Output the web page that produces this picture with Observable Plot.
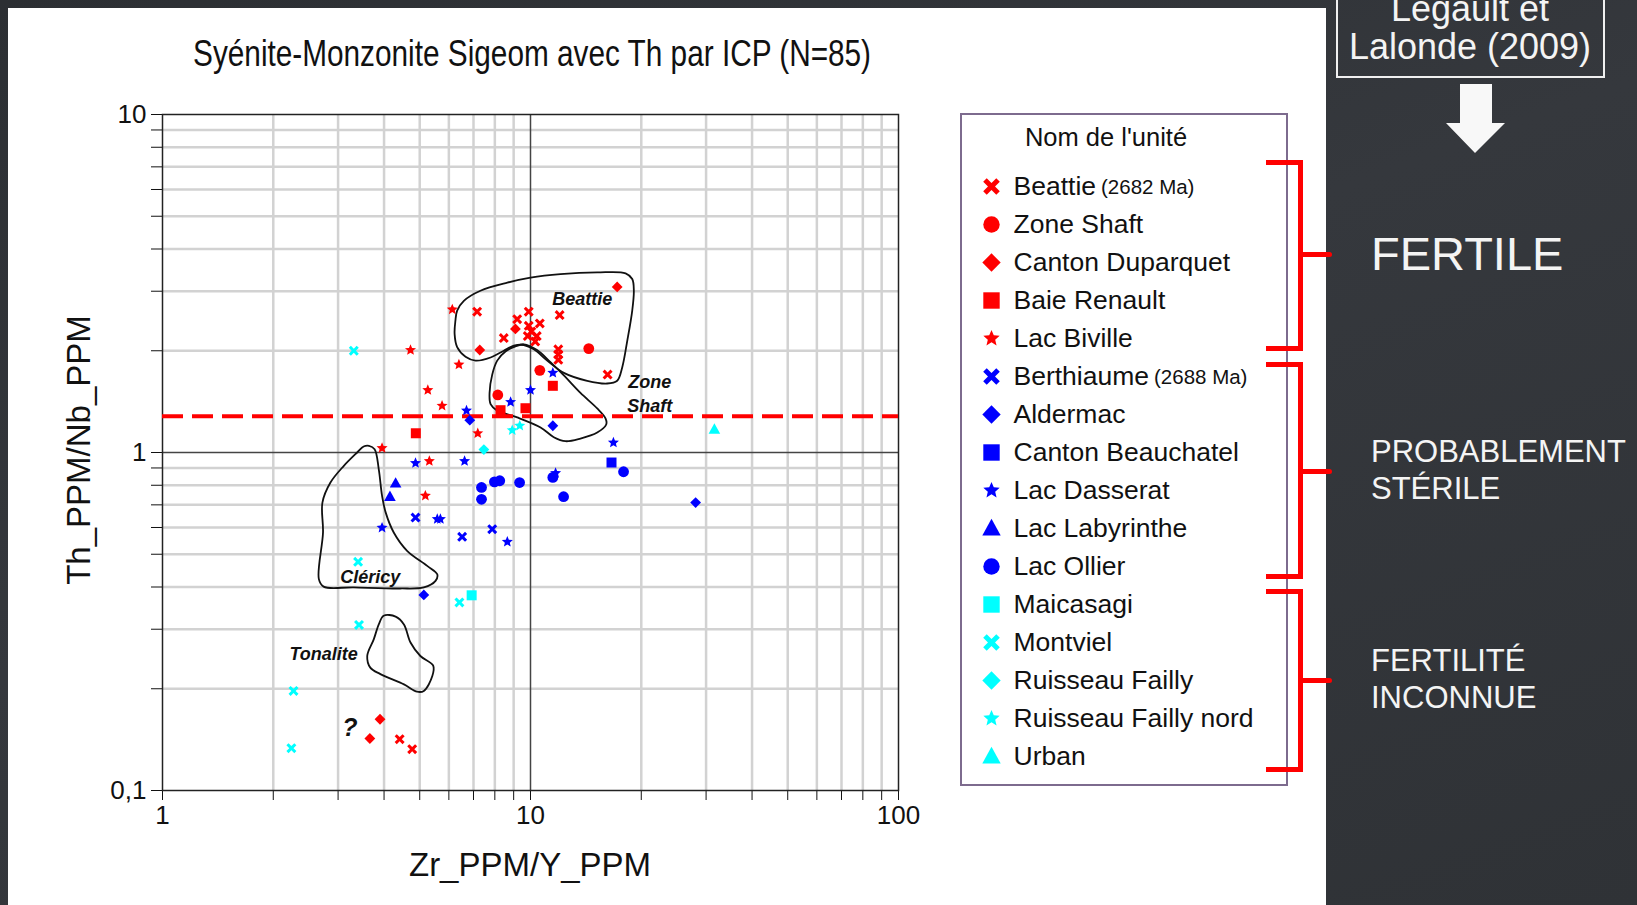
<!DOCTYPE html>
<html><head><meta charset="utf-8">
<script src="https://cdn.jsdelivr.net/npm/d3@7"></script>
<script src="https://cdn.jsdelivr.net/npm/@observablehq/plot@0.6"></script>
<style>
html,body{margin:0;padding:0;width:1637px;height:905px;overflow:hidden;}
body{position:relative;background:linear-gradient(160deg,#2c2f33 0%,#35383d 45%,#2f3236 100%);font-family:"Liberation Sans",Arial,sans-serif;}
#panel{position:absolute;left:8px;top:8px;width:1318px;height:897px;background:#fff;}
.abs{position:absolute;white-space:nowrap;}
#title{left:122px;width:800px;top:36px;text-align:center;font-size:36px;line-height:36px;color:#111;}
#title span{display:inline-block;transform-origin:50% 50%;}
#ylab{left:78px;top:450px;font-size:33px;line-height:33px;color:#111;transform:translate(-50%,-50%) rotate(-90deg);}
#xlab{left:530px;top:864px;font-size:33px;line-height:33px;color:#111;transform:translate(-50%,-50%);}
#chart{position:absolute;left:0;top:0;}
#legbox{position:absolute;left:960px;top:113px;width:328px;height:673px;box-sizing:border-box;border:2px solid #7d6b8e;}
#legtitle{left:1106px;top:124px;font-size:25.5px;line-height:26px;color:#111;transform:translateX(-50%);}
#legend{position:absolute;left:960px;top:113px;}
.br{position:absolute;box-sizing:border-box;border:5px solid #ff0000;border-left:none;}
.tick{position:absolute;height:5px;background:#ff0000;border-radius:0 3px 3px 0;}
.w{color:#f4f4f4;}
#legault{position:absolute;left:1336px;top:-2px;width:269px;height:80px;box-sizing:border-box;border:2px solid #f0f0f0;}
</style></head><body>
<div id="panel"></div>
<div id="title" class="abs"><span>Syénite-Monzonite Sigeom avec Th par ICP (N=85)</span></div>
<div id="chart"></div>
<div id="ylab" class="abs">Th_PPM/Nb_PPM</div>
<div id="xlab" class="abs">Zr_PPM/Y_PPM</div>
<div id="legbox"></div>
<div id="legtitle" class="abs">Nom de l'unité</div>
<div id="legend"></div>
<div class="br" style="left:1266px;top:160px;width:37px;height:191px;"></div>
<div class="tick" style="left:1300px;top:252px;width:32px;"></div>
<div class="br" style="left:1266px;top:362px;width:37px;height:217px;"></div>
<div class="tick" style="left:1300px;top:469px;width:32px;"></div>
<div class="br" style="left:1266px;top:589px;width:37px;height:183px;"></div>
<div class="tick" style="left:1300px;top:678px;width:32px;"></div>
<div id="legault"></div>
<div class="abs w" style="left:1470px;top:-10px;transform:translateX(-50%);font-size:36px;line-height:38px;text-align:center;">Legault et<br>Lalonde (2009)</div>
<svg class="abs" style="left:0;top:0;" width="1637" height="200"><polygon points="1460,84 1492,84 1492,123 1505,123 1475,153 1446,123 1460,123" fill="#f8f8f8"/></svg>
<div class="abs w" style="left:1371px;top:230px;font-size:47px;line-height:48px;">FERTILE</div>
<div class="abs w" style="left:1371px;top:433px;font-size:31px;line-height:37px;">PROBABLEMENT<br>STÉRILE</div>
<div class="abs w" style="left:1371px;top:642px;font-size:31px;line-height:37px;">FERTILITÉ<br>INCONNUE</div>
<script>
// ---------------- data ----------------
const units = ["Beattie","Zone Shaft","Canton Duparquet","Baie Renault","Lac Biville","Berthiaume","Aldermac","Canton Beauchatel","Lac Dasserat","Lac Labyrinthe","Lac Ollier","Maicasagi","Montviel","Ruisseau Failly","Ruisseau Failly nord","Urban"];
const unitSuffix = ["(2682 Ma)","","","","","(2688 Ma)","","","","","","","","","",""];
const unitColors = ["#ff0000","#ff0000","#ff0000","#ff0000","#ff0000","#0000ff","#0000ff","#0000ff","#0000ff","#0000ff","#0000ff","#00ffff","#00ffff","#00ffff","#00ffff","#00ffff"];
const unitShapes = ["x","circle","diamond","square","star","x","diamond","square","star","triangle","circle","square","x","diamond","star","triangle"];

// [Zr/Y, Th/Nb]
const beattie = [[7.16,2.61],[9.89,2.61],[12.0,2.55],[9.20,2.48],[10.6,2.41],[9.89,2.37],[10.05,2.28],[8.46,2.18],[9.83,2.21],[10.4,2.21],[10.3,2.13],[11.9,2.02],[11.9,1.95],[11.9,1.88],[16.2,1.70],[4.41,0.1418],[4.77,0.1325]];
const zoneShaft = [[14.4,2.03],[10.6,1.75],[8.15,1.48]];
const cantonDuparquet = [[17.2,3.09],[9.10,2.32],[7.28,2.01],[3.90,0.1625],[3.66,0.1425]];
const baieRenault = [[11.5,1.575],[8.29,1.334],[9.69,1.352],[4.88,1.14]];
const lacBiville = [[6.13,2.65],[4.72,2.01],[6.39,1.82],[5.26,1.53],[5.75,1.375],[7.19,1.14],[3.95,1.03],[5.31,0.943],[5.18,0.745]];
const berthiaume = [[4.87,0.642],[6.52,0.563],[7.87,0.593]];
const aldermac = [[6.84,1.246],[11.5,1.20],[28.1,0.711],[5.13,0.379]];
const cantonBeauchatel = [[16.6,0.934]];
const lacDasserat = [[11.5,1.72],[10.0,1.53],[8.83,1.41],[6.70,1.33],[16.8,1.07],[4.87,0.930],[6.62,0.943],[11.7,0.869],[3.95,0.599],[5.58,0.635],[5.69,0.635],[8.65,0.544]];
const lacLabyrinthe = [[4.30,0.811],[4.15,0.740]];
const lacOllier = [[7.36,0.788],[7.36,0.727],[7.98,0.819],[8.25,0.825],[9.34,0.815],[11.5,0.844],[12.3,0.740],[17.9,0.877]];
const maicasagi = [[6.92,0.378]];
const montviel = [[3.31,2.0],[3.40,0.475],[6.41,0.360],[3.42,0.309],[2.27,0.197],[2.24,0.1334]];
const ruisseauFailly = [[7.47,1.02]];
const ruisseauFaillyNord = [[8.92,1.164],[9.35,1.20]];
const urban = [[31.6,1.17]];
const series = [beattie,zoneShaft,cantonDuparquet,baieRenault,lacBiville,berthiaume,aldermac,cantonBeauchatel,lacDasserat,lacLabyrinthe,lacOllier,maicasagi,montviel,ruisseauFailly,ruisseauFaillyNord,urban];

// field outlines
const beattieZone = [[6.25,2.45],[6.32,2.63],[6.59,2.81],[7.31,3.01],[8.65,3.18],[10.0,3.29],[12.06,3.37],[15.18,3.41],[18.13,3.39],[18.9,3.26],[19.09,3.01],[18.9,2.63],[18.32,2.14],[17.75,1.785],[17.2,1.63],[16.16,1.60],[14.26,1.63],[12.32,1.72],[11.1,1.87],[10.21,2.02],[9.59,2.08],[9.01,2.07],[8.46,2.0],[7.79,1.91],[7.09,1.87],[6.66,1.92],[6.32,2.05],[6.22,2.24]];
const zoneShaftZone = [[9.59,2.09],[10.42,2.01],[11.33,1.85],[12.32,1.69],[13.67,1.50],[15.18,1.35],[16.0,1.26],[16.06,1.21],[15.18,1.146],[13.67,1.10],[12.45,1.08],[11.57,1.11],[10.65,1.186],[9.20,1.27],[8.12,1.33],[7.79,1.39],[7.74,1.50],[7.87,1.70],[8.12,1.87],[8.55,1.99],[9.10,2.06]];
const clericyZone = [[3.64,1.047],[3.77,1.023],[3.87,0.892],[3.95,0.745],[4.04,0.665],[4.25,0.580],[4.62,0.512],[5.24,0.462],[5.58,0.436],[5.52,0.417],[5.13,0.399],[4.43,0.396],[3.31,0.399],[2.74,0.401],[2.66,0.422],[2.73,0.580],[2.72,0.711],[2.86,0.815],[3.11,0.913],[3.38,1.0],[3.52,1.042]];
const tonaliteZone = [[3.99,0.329],[4.30,0.327],[4.53,0.310],[4.72,0.274],[5.02,0.250],[5.44,0.234],[5.41,0.218],[5.13,0.197],[4.92,0.196],[4.53,0.206],[3.91,0.221],[3.67,0.231],[3.60,0.250],[3.75,0.280],[3.87,0.310]];
const zoneLabels = ["Beattie","Zone","Shaft","Cléricy","Tonalite"];
const zoneLabelX = [13.82,21.1,21.1,3.67,2.74];
const zoneLabelY = [2.84,1.61,1.375,0.427,0.253];
const unknownLabel = ["?"];
const unknownX = [3.23];
const unknownY = [0.1526];
const threshold = [1.28];

const xTicks = [1,2,3,4,5,6,7,8,9,10,20,30,40,50,60,70,80,90,100];
const yTicks = [0.1,0.2,0.3,0.4,0.5,0.6,0.7,0.8,0.9,1,2,3,4,5,6,7,8,9,10];
const xTickLabels = {"1":"1","10":"10","100":"100"};
const yTickLabels = {"0.1":"0,1","1":"1","10":"10"};
const xGrid = [2,3,4,5,6,7,8,9,20,30,40,50,60,70,80,90];
const yGrid = [0.2,0.3,0.4,0.5,0.6,0.7,0.8,0.9,2,3,4,5,6,7,8,9];
const xMajor = [10];
const yMajor = [1];

// ---------------- symbols ----------------
function poly(ctx, pts){ctx.moveTo(pts[0][0],pts[0][1]);for(let i=1;i<pts.length;i++)ctx.lineTo(pts[i][0],pts[i][1]);ctx.closePath();}
const symX = {draw(ctx,size){const R=Math.sqrt(size/Math.PI),t=R*0.3,L=Math.SQRT2*R-t,c=Math.SQRT1_2;
  poly(ctx,[[-L,-t],[-t,-t],[-t,-L],[t,-L],[t,-t],[L,-t],[L,t],[t,t],[t,L],[-t,L],[-t,t],[-L,t]].map(([x,y])=>[(x-y)*c,(x+y)*c]));}};
const symSquare = {draw(ctx,size){const R=Math.sqrt(size/Math.PI);poly(ctx,[[-R,-R],[R,-R],[R,R],[-R,R]]);}};
const symDiamond = {draw(ctx,size){const R=Math.sqrt(size/Math.PI);poly(ctx,[[0,-R],[R,0],[0,R],[-R,0]]);}};
const symTriangle = {draw(ctx,size){const R=Math.sqrt(size/Math.PI);poly(ctx,[[0,-1.05*R],[R,0.75*R],[-R,0.75*R]]);}};
const symStar = {draw(ctx,size){const R=Math.sqrt(size/Math.PI),ri=R*0.45,pts=[];for(let k=0;k<10;k++){const a=-Math.PI/2+k*Math.PI/5,rr=k%2?ri:R;pts.push([rr*Math.cos(a),rr*Math.sin(a)]);}poly(ctx,pts);}};
const shapeDefs = {
  x:{symbol:symX,r:5.0,lr:8.3},
  circle:{symbol:"circle",r:5.4,lr:8.2},
  diamond:{symbol:symDiamond,r:5.4,lr:9.2},
  square:{symbol:symSquare,r:5.0,lr:8.2},
  star:{symbol:symStar,r:5.8,lr:8.6},
  triangle:{symbol:symTriangle,r:5.8,lr:9.2}
};

// ---------------- main chart ----------------
const fam = '"Liberation Sans", Arial, sans-serif';
const pointMarks = series.map((s,i)=>{const sd=shapeDefs[unitShapes[i]];
  return Plot.dot(s,{x:d=>d[0],y:d=>d[1],symbol:sd.symbol,r:sd.r,fill:unitColors[i]});});
const zoneMarks = [beattieZone,zoneShaftZone,clericyZone,tonaliteZone].map(z=>
  Plot.line(z,{x:d=>d[0],y:d=>d[1],curve:"catmull-rom-closed",stroke:"#111",strokeWidth:1.8}));

const chart = Plot.plot({
  width:1000,height:905,
  marginLeft:162,marginRight:102,marginTop:114,marginBottom:115,
  style:{fontFamily:fam,fontSize:"26px",color:"#111",background:"transparent",overflow:"visible"},
  x:{type:"log",domain:[1,100],ticks:xTicks,tickFormat:d=>xTickLabels[String(d)]??"",tickSize:10,tickPadding:5,label:null},
  y:{type:"log",domain:[0.1,10],ticks:yTicks,tickFormat:d=>yTickLabels[String(d)]??"",tickSize:11,tickPadding:5,label:null},
  marks:[
    Plot.ruleX(xGrid,{stroke:"#d2d2d2",strokeWidth:2.5}),
    Plot.ruleY(yGrid,{stroke:"#d2d2d2",strokeWidth:2.5}),
    Plot.ruleX(xMajor,{stroke:"#444",strokeWidth:1.5}),
    Plot.ruleY(yMajor,{stroke:"#444",strokeWidth:1.5}),
    Plot.frame({stroke:"#222",strokeWidth:1.5}),
    ...zoneMarks,
    Plot.ruleY(threshold,{stroke:"#ff0000",strokeWidth:4,strokeDasharray:"21,9"}),
    ...pointMarks,
    Plot.text(zoneLabels,{x:(d,i)=>zoneLabelX[i],y:(d,i)=>zoneLabelY[i],text:d=>d,fontSize:18,fontWeight:"bold",fontStyle:"italic",fill:"#111"}),
    Plot.text(unknownLabel,{x:(d,i)=>unknownX[i],y:(d,i)=>unknownY[i],text:d=>d,fontSize:25,fontWeight:"bold",fontStyle:"italic",fill:"#111"})
  ]
});
document.getElementById("chart").appendChild(chart);

// ---------------- legend ----------------
const cv = document.createElement("canvas").getContext("2d");
cv.font = `26.5px ${fam}`;
const legendMarks = [];
units.forEach((u,i)=>{const sd=shapeDefs[unitShapes[i]];
  legendMarks.push(Plot.dot([u],{x:()=>0,y:d=>d,symbol:sd.symbol,r:sd.lr,fill:unitColors[i]}));
  if (unitSuffix[i]) legendMarks.push(Plot.text([u],{x:()=>1,y:d=>d,text:()=>unitSuffix[i],textAnchor:"start",fontSize:20.5,fill:"#111",dx:cv.measureText(u).width+5,dy:1}));
});
legendMarks.push(Plot.text(units,{x:()=>1,y:d=>d,text:d=>d,textAnchor:"start",fontSize:26.5,fill:"#111"}));
const legend = Plot.plot({
  width:328,height:673,margin:0,
  style:{fontFamily:fam,background:"transparent",overflow:"visible"},
  x:{axis:null,domain:[0,1],range:[31,53]},
  y:{axis:null,type:"point",domain:units,range:[71,645],padding:0},
  marks:legendMarks
});
document.getElementById("legend").appendChild(legend);

// condense the title to the reference width
const ts = document.querySelector("#title span");
const tw = ts.getBoundingClientRect().width;
ts.style.transform = `scaleX(${678/tw})`;
</script>
</body></html>
